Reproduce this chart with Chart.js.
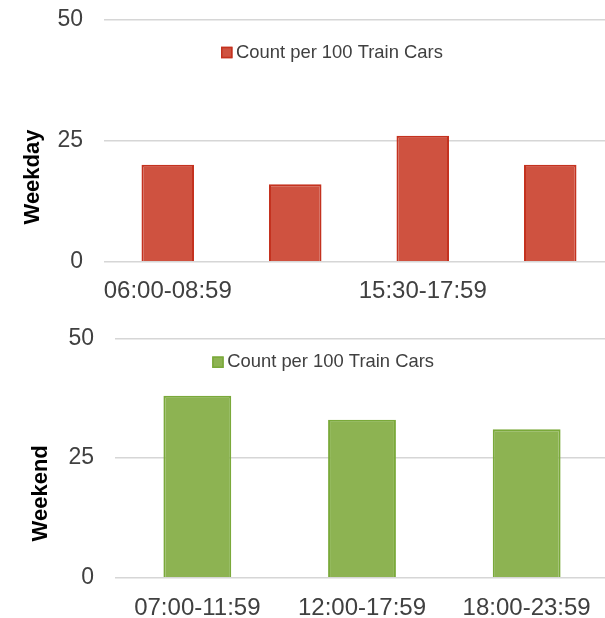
<!DOCTYPE html>
<html>
<head>
<meta charset="utf-8">
<script src="https://cdn.jsdelivr.net/npm/chart.js@4.4.1/dist/chart.umd.min.js"></script>
<style>
  html, body { margin: 0; padding: 0; background: #fff; overflow: hidden; }
  #page { position: relative; width: 605px; height: 618px; overflow: hidden; }
  .panel { position: absolute; left: 0; }
  #weekdayBox { top: 0; width: 614px; height: 310px; }
  #weekendBox { top: 310px; width: 609px; height: 308px; }
</style>
</head>
<body>
<div id="page">
  <div id="weekdayBox" class="panel"><canvas id="weekdayChart"></canvas></div>
  <div id="weekendBox" class="panel"><canvas id="weekendChart"></canvas></div>
</div>
<script>
// Time windows and counts per 100 train cars
const weekdayPeriods = ['06:00-08:59', '09:00-15:29', '15:30-17:59', '18:00-23:59'];
const weekdayCounts = [20, 16, 26, 20];
const weekendPeriods = ['07:00-11:59', '12:00-17:59', '18:00-23:59'];
const weekendCounts = [38, 33, 31];
const countTicks = [0, 25, 50];
const seriesName = 'Count per 100 Train Cars';

const FONT = '"Liberation Sans", Arial, Helvetica, sans-serif';
const TEXT = '#404040';
const GRID = '#d6d6d6';

// Rotated bold panel title on the left side
const sideTitle = {
  id: 'sideTitle',
  afterDraw(chart, args, opts) {
    const ctx = chart.ctx;
    ctx.save();
    ctx.translate(opts.x, opts.y);
    ctx.rotate(-Math.PI / 2);
    ctx.font = 'bold 22px ' + FONT;
    ctx.fillStyle = '#000';
    ctx.textAlign = 'center';
    ctx.textBaseline = 'middle';
    ctx.fillText(opts.text, 0, 0);
    ctx.restore();
  }
};

// Legend entry drawn inside the plot area
const insetLegend = {
  id: 'insetLegend',
  afterDraw(chart, args, opts) {
    const ds = chart.data.datasets[0];
    const ctx = chart.ctx;
    const s = opts.boxSize;
    ctx.save();
    ctx.fillStyle = ds.backgroundColor;
    ctx.fillRect(opts.x, opts.y - s / 2, s, s);
    ctx.strokeStyle = ds.borderColor;
    ctx.lineWidth = 1.5;
    ctx.strokeRect(opts.x + 0.75, opts.y - s / 2 + 0.75, s - 1.5, s - 1.5);
    ctx.font = '18.4px ' + FONT;
    ctx.fillStyle = TEXT;
    ctx.textAlign = 'left';
    ctx.textBaseline = 'middle';
    ctx.fillText(ds.label, opts.x + s + 3.5, opts.y);
    ctx.restore();
  }
};

function panel(canvasId, periods, counts, fill, edge, cfg) {
  return new Chart(document.getElementById(canvasId), {
    type: 'bar',
    data: {
      labels: periods,
      datasets: [{
        label: seriesName,
        data: counts,
        backgroundColor: fill,
        borderColor: edge,
        borderWidth: 2,
        borderSkipped: 'start',
        categoryPercentage: 1,
        barPercentage: 0.412
      }]
    },
    options: {
      responsive: true,
      maintainAspectRatio: false,
      animation: false,
      layout: { padding: cfg.padding },
      plugins: {
        legend: { display: false },
        tooltip: { enabled: false },
        sideTitle: cfg.title,
        insetLegend: cfg.legend
      },
      scales: {
        x: {
          grid: { display: false },
          border: { display: false },
          afterFit(s) { s.height = 40; },
          ticks: {
            autoSkip: false,
            maxRotation: 0,
            padding: cfg.labelPad,
            color: TEXT,
            font: { family: FONT, size: 24 },
            callback(v, i) {
              return (i % cfg.labelEvery === 0) ? this.getLabelForValue(v) : '';
            }
          }
        },
        y: {
          min: countTicks[0],
          max: countTicks[countTicks.length - 1],
          afterFit(s) {
            s.width = cfg.axisWidth;
            s.paddingTop = 0;
            s.paddingBottom = 0;
          },
          afterBuildTicks(s) { s.ticks = countTicks.map(v => ({ value: v })); },
          border: { display: false },
          grid: { color: GRID, lineWidth: 1.5, drawTicks: false },
          ticks: {
            padding: 21,
            color: TEXT,
            font: { family: FONT, size: 23 }
          }
        }
      }
    },
    plugins: [sideTitle, insetLegend]
  });
}

panel('weekdayChart', weekdayPeriods, weekdayCounts, '#cf5240', '#c4321f', {
  padding: { top: 19.5, right: 0, bottom: 8.3, left: 0 },
  axisWidth: 104,
  labelEvery: 2,
  labelPad: 7,
  title: { text: 'Weekday', x: 32.5, y: 177 },
  legend: { x: 221, y: 52.5, boxSize: 11.5 }
});

panel('weekendChart', weekendPeriods, weekendCounts, '#8db352', '#7aa93a', {
  padding: { top: 28.3, right: 0, bottom: 0.3, left: 0 },
  axisWidth: 115,
  labelEvery: 1,
  labelPad: 8,
  title: { text: 'Weekend', x: 40.5, y: 183.3 },
  legend: { x: 212.2, y: 52.2, boxSize: 11.5 }
});
</script>
</body>
</html>
